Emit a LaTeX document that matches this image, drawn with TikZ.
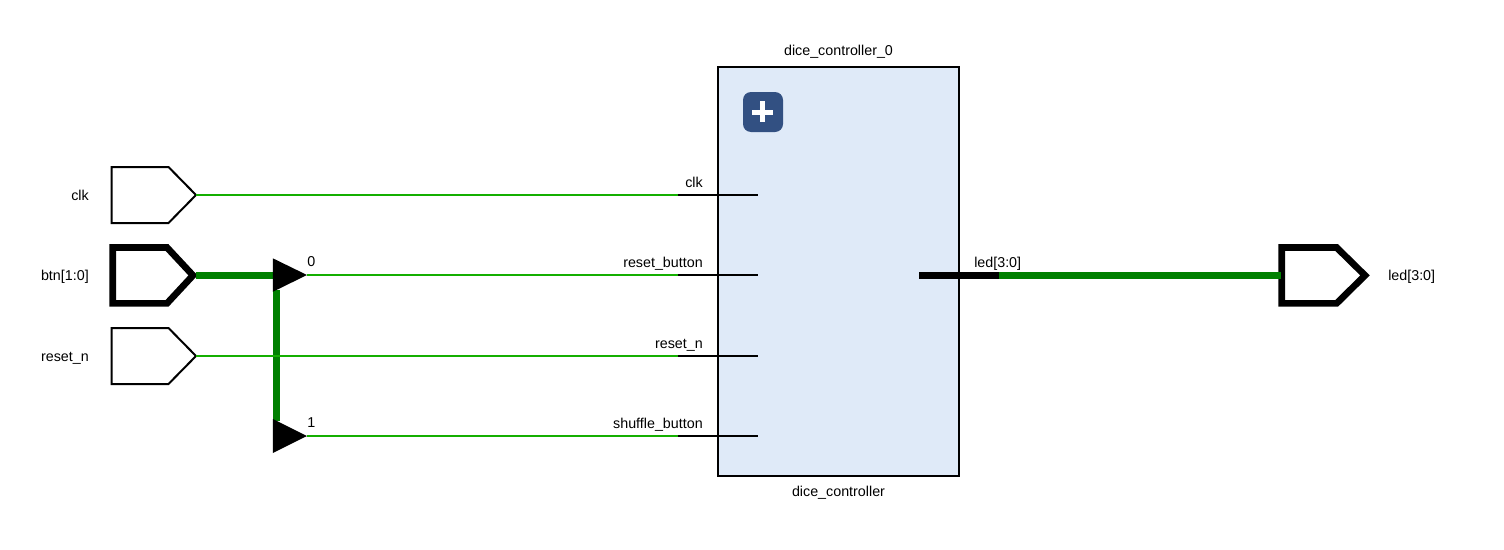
\documentclass[tikz,border=0pt]{standalone}
\usepackage{fontspec}
\setmainfont{Liberation Sans}
\definecolor{netthin}{RGB}{20,175,0}
\definecolor{netbus}{RGB}{0,128,0}
\definecolor{blockfill}{RGB}{223,234,248}
\definecolor{iconfill}{RGB}{50,80,130}
\tikzset{
  lbl/.style={inner sep=0pt,font=\fontsize{10.72pt}{12pt}\selectfont,text=black},
  thinnet/.style={draw=netthin,line width=1.5pt},
  busnet/.style={draw=netbus,line width=5pt},
  pinwire/.style={draw=black,line width=1.5pt},
  buswire/.style={draw=black,line width=5pt},
  portthin/.style={draw=black,line width=1.5pt,fill=white,miter limit=10},
  portbus/.style={draw=black,line width=5pt,fill=white,miter limit=10},
  ripper/.style={fill=black}
}
\begin{document}
\begin{tikzpicture}[x=0.75pt,y=-0.75pt]
\useasboundingbox (0,0) rectangle (1504,550);
\fill[white] (0,0) rectangle (1504,550);
% anchors
\coordinate (clktip) at (196,195);
\coordinate (btntip) at (193,275.4);
\coordinate (btnout) at (195.5,275.4);
\coordinate (rsttip) at (196,356);
\coordinate (rip0in) at (275,275.4);
\coordinate (rip0out) at (307,275);
\coordinate (rip1out) at (307,436);
\coordinate (busA) at (276.8,290);
\coordinate (busB) at (276.8,421);
\coordinate (pclkA) at (678,195);
\coordinate (pclkB) at (758,195);
\coordinate (prbA) at (678,275);
\coordinate (prbB) at (758,275);
\coordinate (prnA) at (678,356);
\coordinate (prnB) at (758,356);
\coordinate (psbA) at (678,436);
\coordinate (psbB) at (758,436);
\coordinate (ledA) at (919,275.4);
\coordinate (ledB) at (999,275.4);
\coordinate (ledport) at (1281,275.4);
% block
\draw[draw=black,line width=1.5pt,fill=blockfill] (718,67) rectangle (959,476);
\fill[iconfill,rounded corners=6pt] (743,92) rectangle (783,132);
\fill[white] (752,109.5) rectangle (773,114.7);
\fill[white] (760,101) rectangle (765.2,122);
% ports
\draw[portthin] (111.7,167) -- (168.5,167) -- (clktip) -- (168.5,223) -- (111.7,223) -- cycle;
\draw[portbus] (112.7,247.5) -- (167,247.5) -- (btntip) -- (167,303.4) -- (112.7,303.4) -- cycle;
\draw[portthin] (111.7,328) -- (168.5,328) -- (rsttip) -- (168.5,384) -- (111.7,384) -- cycle;
\draw[portbus] (1281.7,247.5) -- (1336.6,247.5) -- (1365,275.4) -- (1336.6,303.4) -- (1281.7,303.4) -- cycle;
% nets
\draw[busnet] (btnout) -- (rip0in);
\draw[busnet,line width=5.25pt] (busA) -- (busB);
\fill[ripper] (272.8,258.3) -- (rip0out) -- (272.8,291.8) -- cycle;
\fill[ripper] (272.8,419) -- (rip1out) -- (272.8,453) -- cycle;
\draw[thinnet] (clktip) -- (pclkA);
\draw[thinnet] (rip0out) -- (prbA);
\draw[thinnet] (rsttip) -- (prnA);
\draw[thinnet] (rip1out) -- (psbA);
\draw[busnet] (ledB) -- (ledport);
% pins
\draw[pinwire] (pclkA) -- (pclkB);
\draw[pinwire] (prbA) -- (prbB);
\draw[pinwire] (prnA) -- (prnB);
\draw[pinwire] (psbA) -- (psbB);
\draw[buswire] (ledA) -- (ledB);
% labels
\node[lbl,anchor=base east] (lclk) at (89,200) {clk};
\node[lbl,anchor=base east] (lbtn) at (89,280) {btn[1:0]};
\node[lbl,anchor=base east] (lrst) at (89,361) {reset\_n};
\node[lbl,anchor=base west] (l0) at (307,266) {0};
\node[lbl,anchor=base west] (l1) at (307,427) {1};
\node[lbl,anchor=base east] (pclk) at (703,187) {clk};
\node[lbl,anchor=base east] (prb) at (703,267) {reset\_button};
\node[lbl,anchor=base east] (prn) at (703,348) {reset\_n};
\node[lbl,anchor=base east] (psb) at (703,428) {shuffle\_button};
\node[lbl,anchor=base west] (pled) at (974,267) {led[3:0]};
\node[lbl,anchor=base west] (oled) at (1388,280) {led[3:0]};
\node[lbl,anchor=base] (inst) at (838.5,55) {dice\_controller\_0};
\node[lbl,anchor=base] (type) at (838.5,496) {dice\_controller};
\end{tikzpicture}
\end{document}
